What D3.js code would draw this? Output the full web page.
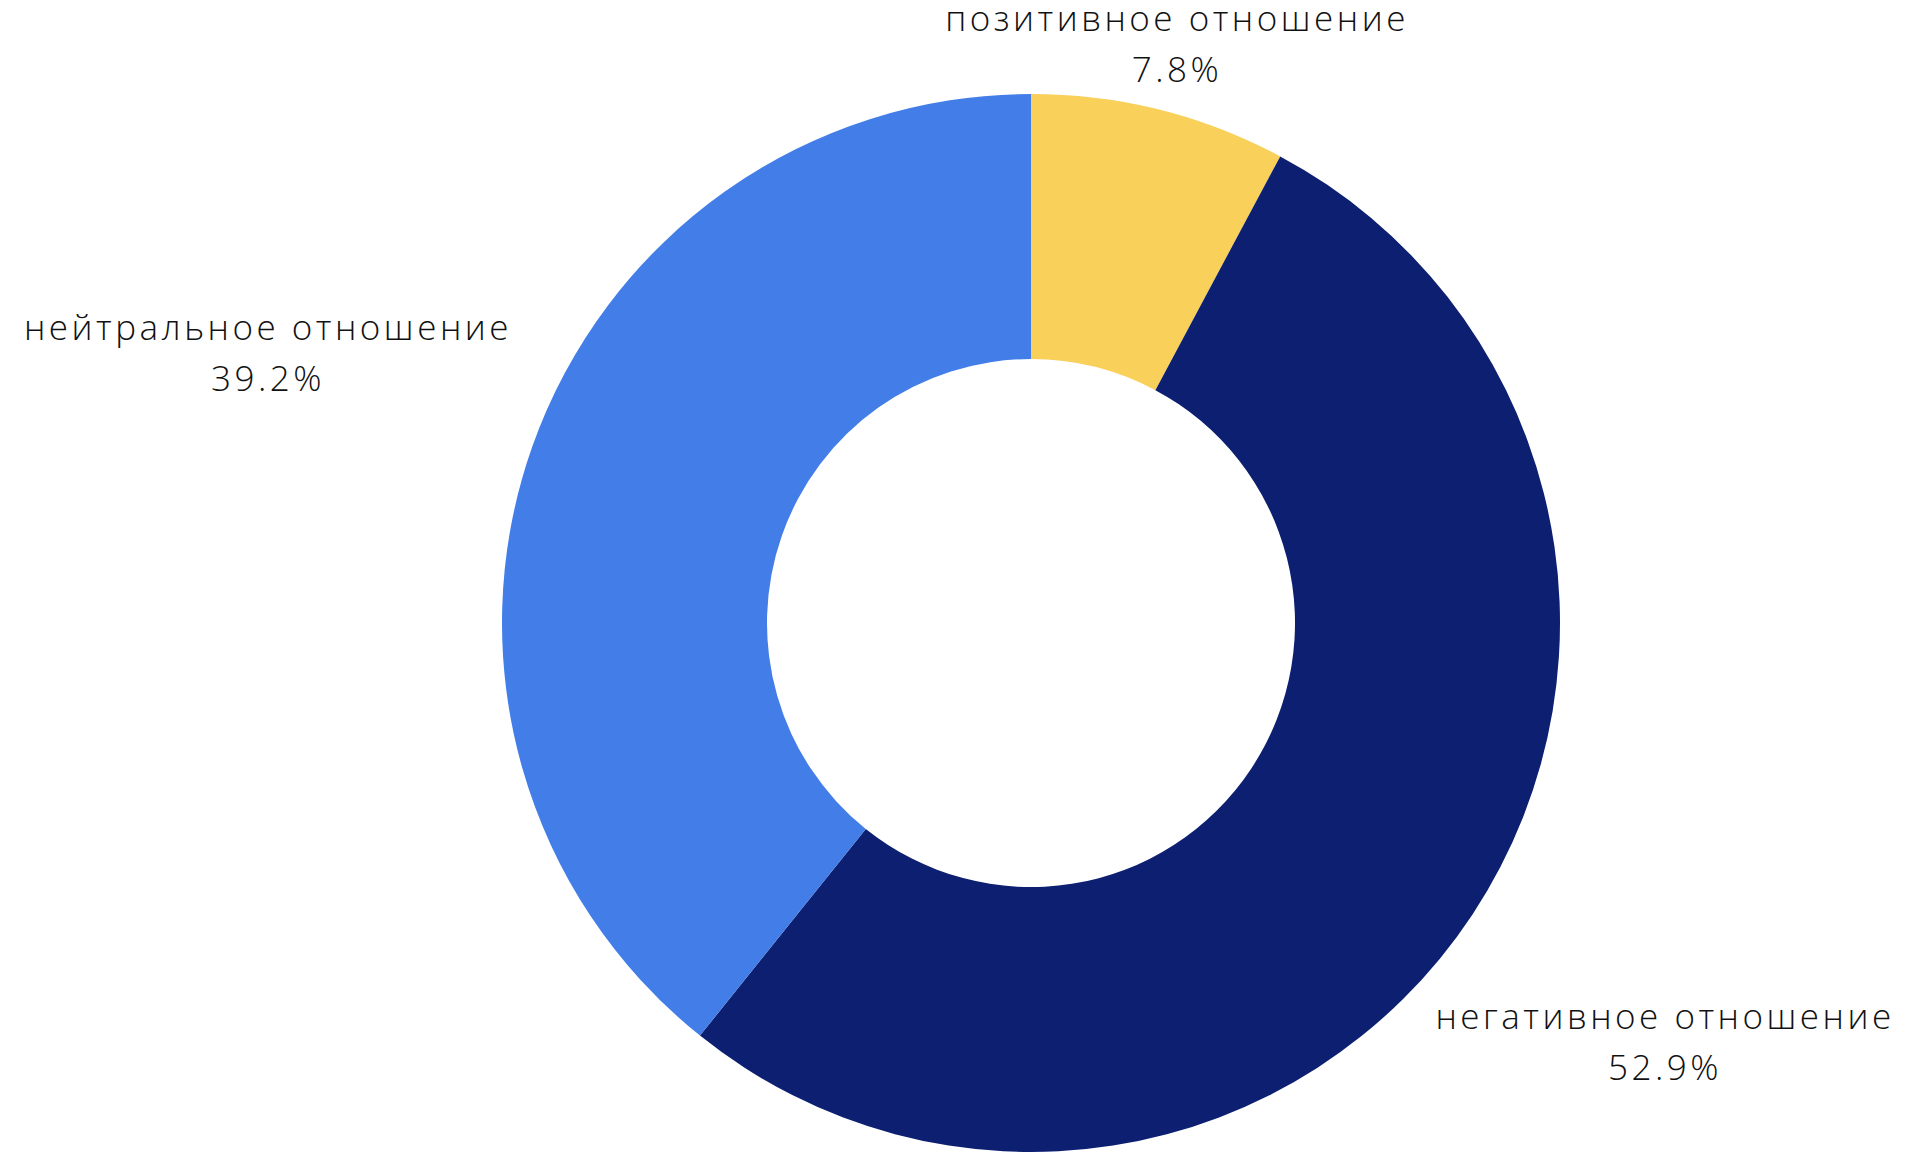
<!DOCTYPE html>
<html><head><meta charset="utf-8">
<script src="https://cdn.jsdelivr.net/npm/d3@7"></script>
<style>body{margin:0;background:#fff}text{font-family:"Open Sans",Lato,sans-serif;font-weight:300;fill:#111;letter-spacing:3.5px}</style>
</head><body>
<svg id="c" width="1920" height="1159"></svg>
<script>
const categories = ["позитивное отношение","негативное отношение","нейтральное отношение"];
const values = [7.8, 52.9, 39.2];
const colors = ["#F8D05A","#0C1F70","#437EE8"];
const labelPos = [[1177,22],[1665,1020],[268,331]];

const svg = d3.select("#c");
const cx=1031, cy=623, R=529, r=264;
const pie = d3.pie().sort(null).value(d=>d)(values);
const arc = d3.arc().innerRadius(r).outerRadius(R);
const g = svg.append("g").attr("transform",`translate(${cx},${cy})`);
g.selectAll("path").data(pie).join("path").attr("d",arc).attr("fill",(d,i)=>colors[i]);
categories.forEach((c,i)=>{
  const t = svg.append("text").attr("x",labelPos[i][0]).attr("y",labelPos[i][1])
    .attr("text-anchor","middle").attr("dominant-baseline","middle").attr("font-size",35);
  t.append("tspan").attr("x",labelPos[i][0]).text(c);
  t.append("tspan").attr("x",labelPos[i][0]).attr("dy",51).text(values[i].toFixed(1)+"%");
});
</script>
</body></html>
